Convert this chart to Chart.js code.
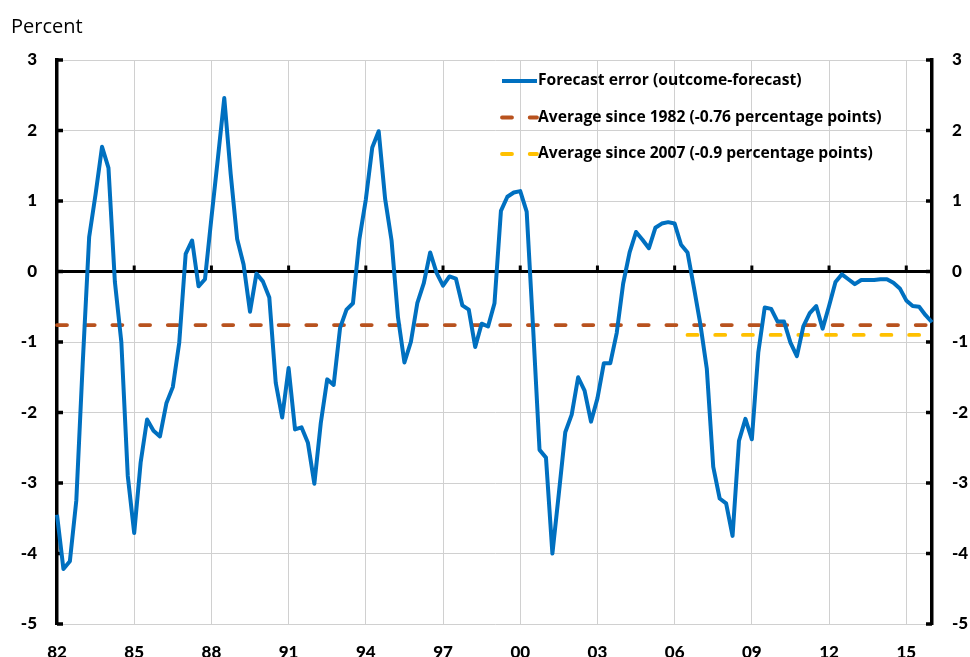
<!DOCTYPE html>
<html>
<head>
<meta charset="utf-8">
<script src="https://cdn.jsdelivr.net/npm/chart.js@4.4.0/dist/chart.umd.min.js"></script>
<style>
  html, body { margin: 0; padding: 0; background: #fff; }
</style>
</head>
<body>
<canvas id="canvas" width="970" height="657"></canvas>
<script>
// tick labels shown every 12 quarters (3 years)
var yearLabels = ["82", "85", "88", "91", "94", "97", "00", "03", "06", "09", "12", "15"];

// quarterly forecast error, 1982Q1 - 2016Q1 (percentage points)
var forecastError = [
  -3.45, -4.22, -4.11, -3.25, -1.3, 0.49, 1.1, 1.77, 1.47, -0.15, -1.0, -2.9,
  -3.71, -2.71, -2.1, -2.26, -2.34, -1.87, -1.64, -1.01, 0.25, 0.44, -0.21, -0.11,
  0.76, 1.6, 2.46, 1.38, 0.46, 0.1, -0.57, -0.03, -0.14, -0.37, -1.58, -2.07,
  -1.37, -2.24, -2.21, -2.43, -3.01, -2.15, -1.53, -1.61, -0.8, -0.54, -0.45, 0.46,
  1.02, 1.76, 1.99, 1.03, 0.44, -0.65, -1.29, -1.0, -0.45, -0.17, 0.27, -0.02,
  -0.2, -0.07, -0.1, -0.48, -0.54, -1.07, -0.74, -0.78, -0.45, 0.86, 1.06, 1.12,
  1.14, 0.85, -0.8, -2.53, -2.64, -4.0, -3.15, -2.28, -2.03, -1.5, -1.69, -2.13,
  -1.8, -1.3, -1.3, -0.87, -0.17, 0.27, 0.56, 0.45, 0.33, 0.62, 0.68, 0.7,
  0.68, 0.38, 0.27, -0.23, -0.75, -1.38, -2.77, -3.22, -3.29, -3.75, -2.4, -2.09,
  -2.38, -1.15, -0.51, -0.53, -0.71, -0.71, -1.01, -1.2, -0.78, -0.59, -0.49, -0.81,
  -0.49, -0.15, -0.04, -0.11, -0.18, -0.12, -0.12, -0.12, -0.11, -0.11, -0.16, -0.24,
  -0.41, -0.49, -0.5, -0.62, -0.72
];

var avgSince1982 = -0.76;
var avgSince2007 = -0.9;
var avg1982From = "1982Q1";
var avg2007From = "2006Q3";
var lastQuarter = "2016Q1";

var seriesNames = [
  "Forecast error (outcome-forecast)",
  "Average since 1982 (-0.76 percentage points)",
  "Average since 2007 (-0.9 percentage points)"
];

var quarters = [];
for (var y = 1982; quarters.length < forecastError.length; y++) {
  for (var q = 1; q <= 4 && quarters.length < forecastError.length; q++) {
    quarters.push(y + "Q" + q);
  }
}

var FONT = "Lato, 'Open Sans', sans-serif";
var LEGEND_FONT = "'Open Sans', Lato, sans-serif";

var decor = {
  id: "decor",
  beforeDatasetsDraw: function (chart) {
    var ctx = chart.ctx;
    var area = chart.chartArea;
    var xs = chart.scales.x;
    var ys = chart.scales.y;
    var y0 = ys.getPixelForValue(0);
    ctx.save();
    ctx.strokeStyle = "#000";
    ctx.lineWidth = 3;
    ctx.beginPath();
    ctx.moveTo(area.left, y0);
    ctx.lineTo(area.right, y0);
    ctx.stroke();
    // small marks on the zero line at every label
    for (var i = 12; i < quarters.length; i += 12) {
      var px = xs.getPixelForTick(i);
      ctx.beginPath();
      ctx.moveTo(px, y0);
      ctx.lineTo(px, y0 - 6);
      ctx.stroke();
    }
    // inward tick marks on both value axes
    ctx.lineWidth = 3.5;
    ys.ticks.forEach(function (t) {
      var py = ys.getPixelForValue(t.value);
      ctx.beginPath();
      ctx.moveTo(area.left, py);
      ctx.lineTo(area.left + 6, py);
      ctx.moveTo(area.right - 6, py);
      ctx.lineTo(area.right, py);
      ctx.stroke();
    });
    ctx.restore();
  },
  afterDraw: function (chart) {
    var ctx = chart.ctx;
    ctx.save();
    ctx.fillStyle = "#000";
    ctx.font = "20px " + LEGEND_FONT;
    ctx.textBaseline = "alphabetic";
    ctx.fillText("Percent", 11, 33);

    // legend, sized so the longest entry spans the same width as the original
    var size = 15;
    ctx.font = "bold " + size + "px " + LEGEND_FONT;
    var w = ctx.measureText(seriesNames[1]).width;
    size = size * 344 / w;
    ctx.font = "bold " + size.toFixed(2) + "px " + LEGEND_FONT;
    ctx.textBaseline = "middle";
    chart.data.datasets.forEach(function (ds, i) {
      var ly = 81 + i * 36.5;
      ctx.strokeStyle = ds.borderColor;
      ctx.lineWidth = ds.borderWidth;
      ctx.lineCap = ds.borderDash ? "round" : "butt";
      ctx.setLineDash(ds.borderDash || []);
      ctx.beginPath();
      ctx.moveTo(502, ly);
      ctx.lineTo(537, ly);
      ctx.stroke();
      ctx.setLineDash([]);
      ctx.fillStyle = "#000";
      ctx.fillText(ds.label, 538, ly);
    });
    ctx.restore();
  }
};

var chart = new Chart(document.getElementById("canvas"), {
  type: "line",
  data: {
    labels: quarters,
    datasets: [
      {
        label: seriesNames[0],
        data: forecastError,
        borderColor: "#0070C0",
        borderWidth: 4,
        borderJoinStyle: "round",
        pointRadius: 0,
        fill: false,
        tension: 0
      },
      {
        label: seriesNames[1],
        data: [{ x: avg1982From, y: avgSince1982 }, { x: lastQuarter, y: avgSince1982 }],
        borderColor: "#B8521E",
        borderWidth: 3.8,
        borderDash: [10, 17.7],
        borderCapStyle: "round",
        pointRadius: 0,
        fill: false
      },
      {
        label: seriesNames[2],
        data: [{ x: avg2007From, y: avgSince2007 }, { x: lastQuarter, y: avgSince2007 }],
        borderColor: "#FFC000",
        borderWidth: 3.8,
        borderDash: [10, 17.7],
        borderCapStyle: "round",
        pointRadius: 0,
        fill: false
      }
    ]
  },
  options: {
    responsive: false,
    animation: false,
    devicePixelRatio: 1,
    layout: { padding: { top: 60, left: 0, right: 0, bottom: 0 } },
    plugins: {
      legend: { display: false },
      tooltip: { enabled: false }
    },
    scales: {
      x: {
        type: "category",
        offset: false,
        border: { display: false },
        grid: {
          color: function (c) { return c.index % 12 === 0 ? "#d0d0d0" : "rgba(0,0,0,0)"; },
          lineWidth: 1,
          drawTicks: false
        },
        ticks: {
          autoSkip: false,
          maxRotation: 0,
          padding: 18,
          color: "#000",
          font: { family: FONT, size: 17, weight: "900" },
          callback: function (v, i) { return i % 12 === 0 ? yearLabels[i / 12] : ""; }
        },
        afterFit: function (s) { s.height = 33; }
      },
      y: {
        position: "left",
        min: -5,
        max: 3,
        border: { color: "#000", width: 3.5 },
        grid: { color: "#d0d0d0", lineWidth: 1, drawTicks: false },
        ticks: {
          stepSize: 1,
          padding: 20,
          color: "#000",
          font: { family: FONT, size: 17, weight: "900" }
        },
        afterFit: function (s) { s.width = 57; }
      },
      y2: {
        position: "right",
        min: -5,
        max: 3,
        border: { color: "#000", width: 3.5 },
        grid: { drawOnChartArea: false, drawTicks: false },
        ticks: {
          stepSize: 1,
          padding: 20,
          color: "#000",
          font: { family: FONT, size: 17, weight: "900" }
        },
        afterFit: function (s) { s.width = 38; }
      }
    }
  },
  plugins: [decor]
});
</script>
</body>
</html>
